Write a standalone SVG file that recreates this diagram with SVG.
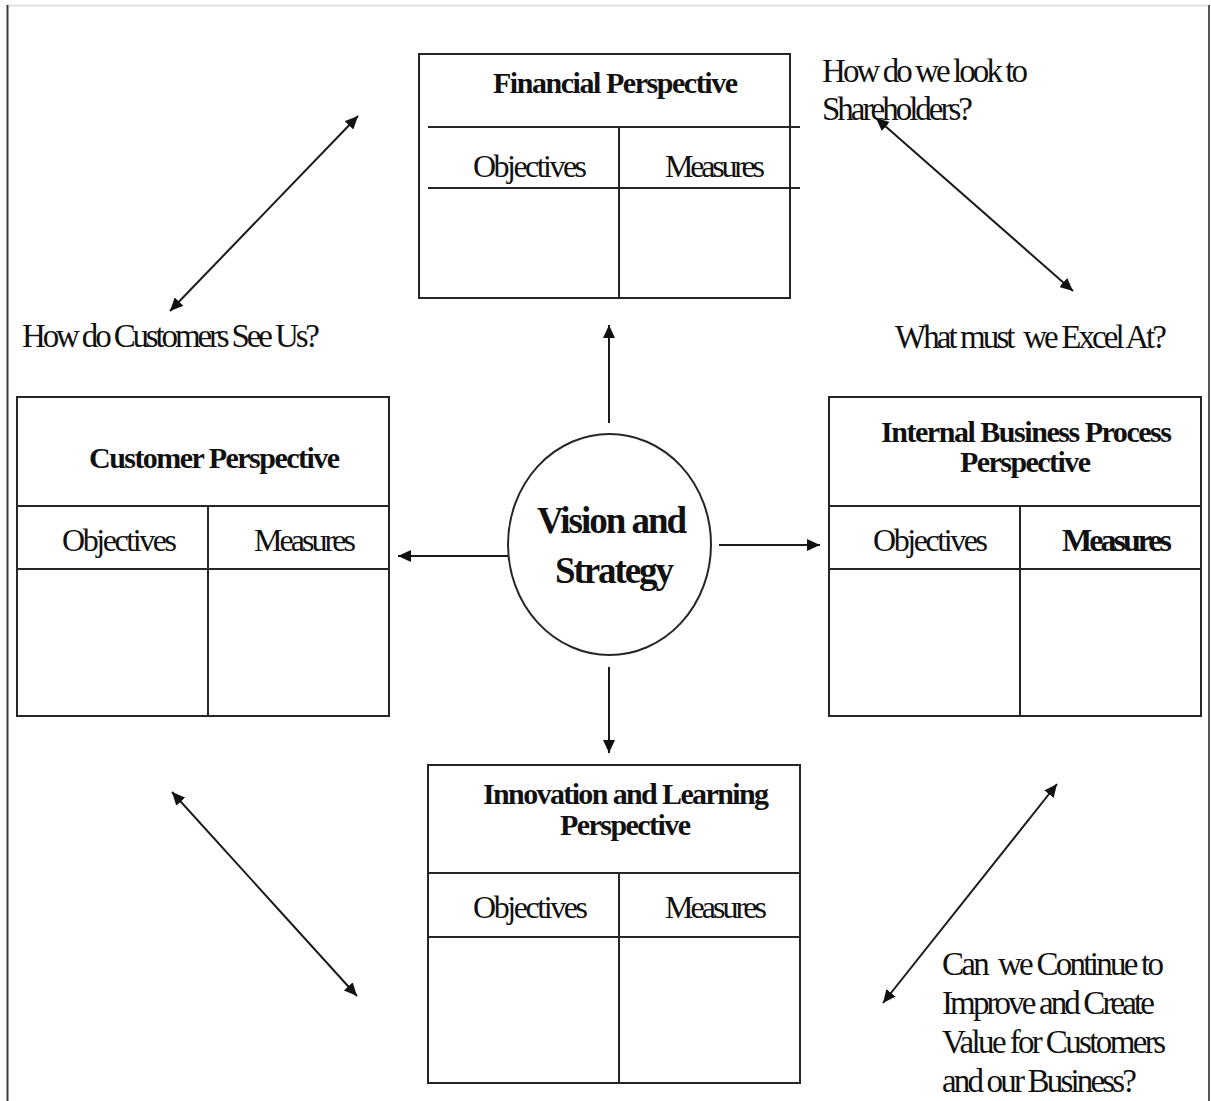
<svg xmlns="http://www.w3.org/2000/svg" width="1211" height="1101" viewBox="0 0 1211 1101">
  <style>
    .frame { fill: none; stroke-width: 2; }
    .box { fill: #fff; stroke: #262626; stroke-width: 2; }
    .rule { stroke: #262626; stroke-width: 2; fill: none; }
    .conn { stroke: #1a1a1a; stroke-width: 2; fill: none; }
    text { font-family: "Liberation Serif", "Times New Roman", serif; fill: #111; }
    .head { font-weight: bold; font-size: 30px; }
    .col { font-size: 32px; }
    .q { font-size: 33px; }
    .core { font-weight: bold; font-size: 37px; }
  </style>
  <defs>
    <marker id="tip" markerUnits="userSpaceOnUse" markerWidth="14" markerHeight="12" refX="13" refY="6" orient="auto-start-reverse">
      <path d="M0,0 L13,6 L0,12 z" fill="#111"/>
    </marker>
  </defs>

  <rect width="1211" height="1101" fill="#fff"/>

  <!-- page frame -->
  <line x1="7" y1="5.5" x2="1209" y2="5.5" class="frame" stroke="#e3e3e3"/>
  <line x1="7.5" y1="5" x2="7.5" y2="1101" class="frame" stroke="#3a3a3a"/>
  <line x1="1209" y1="5" x2="1209" y2="1101" class="frame" stroke="#555"/>

  <!-- Financial perspective -->
  <g id="financial">
    <rect x="419" y="54" width="371" height="244" class="box"/>
    <line x1="428" y1="127" x2="800" y2="127" class="rule"/>
    <line x1="428" y1="188" x2="800" y2="188" class="rule"/>
    <line x1="619" y1="127" x2="619" y2="298" class="rule"/>
    <text x="493" y="93" class="head" textLength="245" lengthAdjust="spacing">Financial Perspective</text>
    <text x="473" y="177" class="col" textLength="114" lengthAdjust="spacing">Objectives</text>
    <text x="665" y="177" class="col" textLength="100" lengthAdjust="spacing">Measures</text>
  </g>

  <!-- Customer perspective -->
  <g id="customer">
    <rect x="17" y="397" width="372" height="319" class="box"/>
    <line x1="17" y1="506" x2="389" y2="506" class="rule"/>
    <line x1="17" y1="569" x2="389" y2="569" class="rule"/>
    <line x1="208" y1="506" x2="208" y2="716" class="rule"/>
    <text x="89" y="468" class="head" textLength="251" lengthAdjust="spacing">Customer Perspective</text>
    <text x="62" y="551" class="col" textLength="115" lengthAdjust="spacing">Objectives</text>
    <text x="254" y="551" class="col" textLength="102" lengthAdjust="spacing">Measures</text>
  </g>

  <!-- Internal business process perspective -->
  <g id="internal">
    <rect x="829" y="397" width="372" height="319" class="box"/>
    <line x1="829" y1="506" x2="1201" y2="506" class="rule"/>
    <line x1="829" y1="569" x2="1201" y2="569" class="rule"/>
    <line x1="1020" y1="506" x2="1020" y2="716" class="rule"/>
    <text x="881" y="442" class="head" textLength="291" lengthAdjust="spacing">Internal Business Process</text>
    <text x="960" y="472" class="head" textLength="131" lengthAdjust="spacing">Perspective</text>
    <text x="873" y="551" class="col" textLength="115" lengthAdjust="spacing">Objectives</text>
    <text x="1062" y="551" class="col" font-weight="bold" textLength="110" lengthAdjust="spacing">Measures</text>
  </g>

  <!-- Innovation and learning perspective -->
  <g id="innovation">
    <rect x="428" y="765" width="372" height="318" class="box"/>
    <line x1="428" y1="873" x2="800" y2="873" class="rule"/>
    <line x1="428" y1="937" x2="800" y2="937" class="rule"/>
    <line x1="619" y1="873" x2="619" y2="1083" class="rule"/>
    <text x="483" y="804" class="head" textLength="286" lengthAdjust="spacing">Innovation and Learning</text>
    <text x="560" y="835" class="head" textLength="131" lengthAdjust="spacing">Perspective</text>
    <text x="473" y="918" class="col" textLength="115" lengthAdjust="spacing">Objectives</text>
    <text x="665" y="918" class="col" textLength="102" lengthAdjust="spacing">Measures</text>
  </g>

  <!-- Vision and strategy hub -->
  <g id="vision">
    <ellipse cx="609.5" cy="544.5" rx="101.5" ry="110.5" class="box"/>
    <text x="537" y="533" class="core" textLength="150" lengthAdjust="spacing">Vision and</text>
    <text x="555" y="583" class="core" textLength="119" lengthAdjust="spacing">Strategy</text>
  </g>

  <!-- questions -->
  <g id="q-customers">
    <text x="22" y="347" class="q" textLength="298" lengthAdjust="spacing">How do Customers See Us?</text>
  </g>
  <g id="q-shareholders">
    <text x="822" y="82" class="q" textLength="206" lengthAdjust="spacing">How do we look to</text>
    <text x="822" y="120" class="q" textLength="151" lengthAdjust="spacing">Shareholders?</text>
  </g>
  <g id="q-excel">
    <text x="895" y="348" class="q" textLength="272" lengthAdjust="spacing" xml:space="preserve">What must  we Excel At?</text>
  </g>
  <g id="q-improve">
    <text x="942" y="975" class="q" textLength="222" lengthAdjust="spacing" xml:space="preserve">Can  we Continue to</text>
    <text x="942" y="1014" class="q" textLength="213" lengthAdjust="spacing">Improve and Create</text>
    <text x="942" y="1053" class="q" textLength="224" lengthAdjust="spacing">Value for Customers</text>
    <text x="942" y="1092" class="q" textLength="195" lengthAdjust="spacing">and our Business?</text>
  </g>

  <!-- connectors -->
  <g id="connectors">
    <line x1="609" y1="423" x2="609" y2="325" class="conn" marker-end="url(#tip)"/>
    <line x1="609" y1="667" x2="609" y2="753" class="conn" marker-end="url(#tip)"/>
    <line x1="719" y1="545" x2="820" y2="545" class="conn" marker-end="url(#tip)"/>
    <line x1="508" y1="556" x2="398" y2="556" class="conn" marker-end="url(#tip)"/>
    <line x1="170" y1="311" x2="358" y2="116" class="conn" marker-start="url(#tip)" marker-end="url(#tip)"/>
    <line x1="876" y1="118" x2="1073" y2="291" class="conn" marker-start="url(#tip)" marker-end="url(#tip)"/>
    <line x1="172" y1="792" x2="357" y2="996" class="conn" marker-start="url(#tip)" marker-end="url(#tip)"/>
    <line x1="1057" y1="784" x2="883" y2="1003" class="conn" marker-start="url(#tip)" marker-end="url(#tip)"/>
  </g>
</svg>
